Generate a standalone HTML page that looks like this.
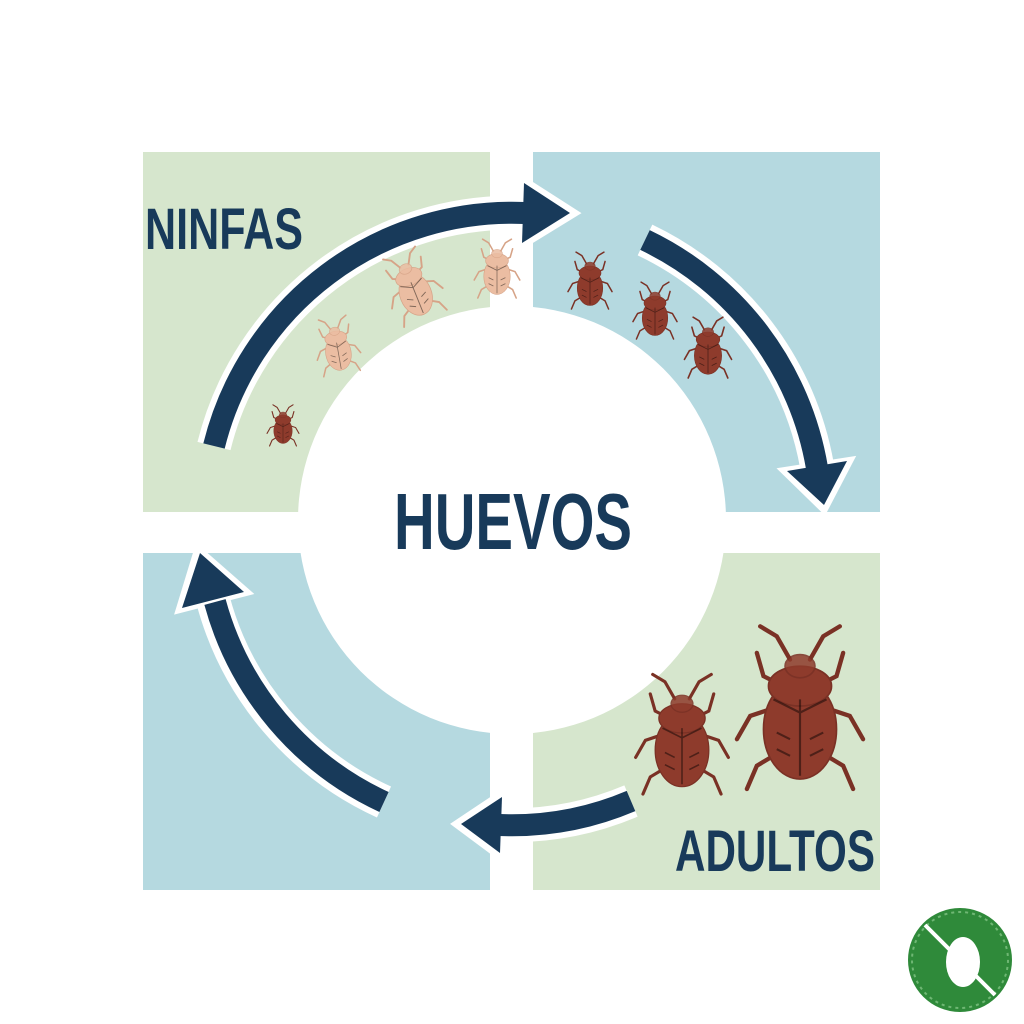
<!DOCTYPE html>
<html><head><meta charset="utf-8"><style>
html,body{margin:0;padding:0;background:#fff;}
svg{display:block;}
</style></head><body>
<svg width="1024" height="1024" viewBox="0 0 1024 1024" xmlns="http://www.w3.org/2000/svg">
<defs>
<g id="bug">
  <g stroke-linecap="round" fill="none" stroke-width="2.6">
    <path d="M-6,-28 L-14,-42 L-24,-48"/><path d="M6,-28 L14,-42 L24,-48"/>
    <path d="M-14,-14 L-22,-18 L-26,-32"/><path d="M14,-14 L22,-18 L26,-32"/>
    <path d="M-18,2 L-30,6 L-38,20"/><path d="M18,2 L30,6 L38,20"/>
    <path d="M-16,30 L-26,36 L-32,50"/><path d="M16,30 L26,36 L32,50"/>
  </g>
  <ellipse cx="0" cy="14" rx="22" ry="30"/>
  <ellipse cx="0" cy="-12" rx="19" ry="12"/>
  <ellipse cx="0" cy="-24" rx="9" ry="7" opacity="0.85"/>
  <path d="M0,-4 L0,42 M-16,-4 L0,4 L16,-4 M-14,16 L-6,20 M14,16 L6,20 M-14,26 L-6,30 M14,26 L6,30" stroke-width="1.3" fill="none" opacity="0.45" stroke="#000"/>
</g>
</defs>
<rect width="1024" height="1024" fill="#fff"/>
<rect x="143" y="152" width="347" height="360" fill="#d6e6cd"/>
<rect x="533" y="152" width="347" height="360" fill="#b5d9e0"/>
<rect x="143" y="553" width="347" height="337" fill="#b5d9e0"/>
<rect x="533" y="553" width="347" height="337" fill="#d6e6cd"/>
<circle cx="512" cy="520" r="214" fill="#fff"/>

<g fill="none" stroke="#fff" stroke-width="34">
  <path d="M214,446 A307,307 0 0 1 523,213"/>
  <path d="M645,240 A310,310 0 0 1 817,466"/>
  <path d="M631,801 A305,305 0 0 1 501,825"/>
  <path d="M384,802 A310,310 0 0 1 213,600"/>
</g>
<g fill="#fff" stroke="#fff" stroke-width="8" stroke-linejoin="miter">
  <polygon points="524,181 574,213 522,245"/>
  <polygon points="849,461 824,509 785,471"/>
  <polygon points="500,856 457,824 502,794"/>
  <polygon points="180,609 198,550 246,592"/>
</g>
<g fill="none" stroke="#183a5a" stroke-width="22">
  <path d="M214,446 A307,307 0 0 1 525,213"/>
  <path d="M645,240 A310,310 0 0 1 817,468"/>
  <path d="M631,801 A305,305 0 0 1 499,825"/>
  <path d="M384,802 A310,310 0 0 1 215,602"/>
</g>
<g fill="#183a5a">
  <polygon points="524,183 570,213 522,243"/>
  <polygon points="847,461 824,505 787,471"/>
  <polygon points="500,853 461,824 502,797"/>
  <polygon points="182,608 200,553 244,592"/>
</g>

<g fill="#8e3b2c" stroke="#7a3125">
  <use href="#bug" transform="translate(283,425) scale(0.42)"/>
  <use href="#bug" transform="translate(590,280) scale(0.58)"/>
  <use href="#bug" transform="translate(655,310) scale(0.58)"/>
  <use href="#bug" transform="translate(708,347) scale(0.62)"/>
  <use href="#bug" transform="translate(682,733) scale(1.22)"/>
  <use href="#bug" transform="translate(800,706) scale(1.66)"/>
</g>
<g fill="#ebbda2" stroke="#d6a387">
  <use href="#bug" transform="translate(337,345) rotate(-10) scale(0.58)"/>
  <use href="#bug" transform="translate(412,285) rotate(-22) scale(0.72)"/>
  <use href="#bug" transform="translate(497,268) scale(0.6)"/>
</g>

<g font-family="Liberation Sans, sans-serif" font-weight="bold" fill="#183a5a">
  <text x="145" y="249" font-size="58" textLength="158" lengthAdjust="spacingAndGlyphs">NINFAS</text>
  <text x="394" y="549" font-size="80" textLength="238" lengthAdjust="spacingAndGlyphs">HUEVOS</text>
  <text x="675" y="871" font-size="58" textLength="200" lengthAdjust="spacingAndGlyphs">ADULTOS</text>
</g>

<circle cx="960" cy="960" r="52" fill="#2f8a3a"/>
<ellipse cx="963" cy="962" rx="17" ry="25" fill="#fff"/>
<circle cx="960" cy="960" r="48" fill="none" stroke="#6fb774" stroke-width="2" stroke-dasharray="3 4"/>
<line x1="925" y1="925" x2="995" y2="995" stroke="#fff" stroke-width="4"/>
</svg>
</body></html>
